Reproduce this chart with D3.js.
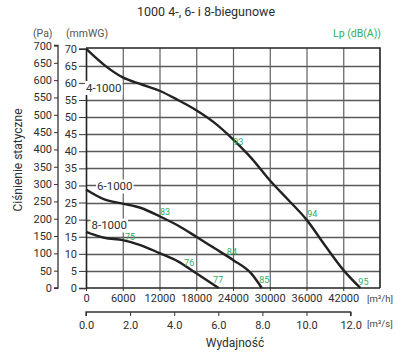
<!DOCTYPE html>
<html><head><meta charset="utf-8">
<script src="https://cdn.jsdelivr.net/npm/d3@7"></script>
<style>body{margin:0;background:#fff}svg{display:block;font-family:Roboto,"Noto Sans",sans-serif}</style>
</head><body><svg id="c" width="408" height="359"></svg>
<script>
// Data (flow in m3/h, static pressure in mmWG)
const curve4 = [[0,70],[3000,65.2],[6000,61.6],[9000,59.6],[12000,57.7],[15000,55],[18000,52],[21000,48.3],[24000,43.5],[27000,38],[30000,31.5],[33000,25.8],[36000,20],[39000,12.5],[42000,5.3],[44800,0]];
const curve6 = [[0,28.8],[3000,25.9],[6000,24.7],[9000,23.4],[12000,21],[15000,18.3],[18000,15],[21000,11.6],[24000,8.2],[27000,4.2],[28700,0]];
const curve8 = [[0,16.4],[3000,14.7],[6000,14],[9000,12.5],[12000,10.2],[15000,7.8],[18000,4.3],[21650,0]];
const curveNames = ["4-1000","6-1000","8-1000"];
const curveLabelPos = [[2900,58.5],[4700,29.7],[3800,18.3]];
const lpLabels = [["75",7190,15.0],["76",16840,7.4],["77",21580,2.3],["83",12920,22.2],["84",23820,10.6],["85",29100,2.3],["93",24850,42.6],["94",36950,21.6],["95",45290,1.8]];
const xTicksH = [0,6000,12000,18000,24000,30000,36000,42000];
const xTicksS = [0,2,4,6,8,10,12];
const yTicksMm = [0,5,10,15,20,25,30,35,40,45,50,55,60,65,70];
const yTicksPa = [0,50,100,150,200,250,300,350,400,450,500,550,600,650,700];

const svg = d3.select("#c");
const L=86,R=380,T=48,B=288;
const x = d3.scaleLinear().domain([0,48000]).range([L,R]);
const xs = d3.scaleLinear().domain([0,48000/3600]).range([L,R]);
const y = d3.scaleLinear().domain([0,70]).range([B,T+0.7]);
const yPa = d3.scaleLinear().domain([0,700]).range([B,45.5]);
const txt="#2e2e2e", green="#2fae62";

// title
svg.append("text").attr("x",206).attr("y",16).attr("text-anchor","middle").attr("font-size",12.5).attr("fill",txt).text("1000 4-, 6- i 8-biegunowe");
svg.append("text").attr("x",33).attr("y",37).attr("font-size",10.5).attr("fill","#555").text("(Pa)");
svg.append("text").attr("x",66).attr("y",37).attr("font-size",10.5).attr("fill","#555").text("(mmWG)");
svg.append("text").attr("x",381).attr("y",37).attr("text-anchor","end").attr("font-size",10.5).attr("fill",green).text("Lp (dB(A))");

// grid: horizontal lines as one path built from the y scale
const hp = d3.path();
yTicksMm.filter(d=>d>0&&d<70).forEach(d=>{ const yy=Math.round(y(d))+0.5; hp.moveTo(L,yy); hp.lineTo(R,yy); });
svg.append("path").attr("d",hp.toString()).attr("fill","none").attr("stroke","#5a5a5a").attr("stroke-width",1.3);
const gridX = svg.append("g").attr("transform",`translate(0,${B})`)
  .call(d3.axisBottom(x).tickValues(xTicksH.filter(d=>d>0)).tickSize(-(B-T)).tickFormat(""));
gridX.select(".domain").remove();
gridX.selectAll(".tick line").attr("stroke","#606060").attr("stroke-width",1.2);

// border
svg.append("path").attr("d",`M${L},${T}H${R}V${B}`).attr("fill","none").attr("stroke","#222").attr("stroke-width",1.6);

// mmWG axis
const ay = d3.axisLeft(y).tickValues(yTicksMm).tickSize(7).tickPadding(2);
const gy = svg.append("g").attr("transform",`translate(${L},0)`).call(ay);
gy.select(".domain").attr("stroke","#222").attr("stroke-width",1.6);
gy.selectAll(".tick line").attr("stroke","#333");
gy.selectAll("text").attr("font-size",11).attr("fill",txt).attr("font-family","Roboto");

// Pa axis
const ap = d3.axisLeft(yPa).tickValues(yTicksPa).tickSize(4).tickPadding(2);
const gp = svg.append("g").attr("transform",`translate(58,0)`).call(ap);
gp.select(".domain").attr("stroke","#333").attr("stroke-width",1.3).attr("d",`M-4,${yPa(700)}H0V${yPa(0)}H-4`);
gp.selectAll(".tick line").attr("stroke","#333");
gp.selectAll("text").attr("font-size",11).attr("fill",txt).attr("font-family","Roboto");

// x axis m3/h
const ax = d3.axisBottom(x).tickValues(xTicksH).tickSize(3).tickPadding(3).tickFormat(d3.format("d"));
const gx = svg.append("g").attr("transform",`translate(0,${B})`).call(ax);
gx.select(".domain").attr("stroke","#222").attr("stroke-width",1.6).attr("d",`M${L},0H${R}`);
gx.selectAll(".tick line").attr("stroke","#333");
gx.selectAll("text").attr("font-size",11).attr("fill",txt).attr("font-family","Roboto");
svg.append("text").attr("x",367).attr("y",302).attr("font-size",9.5).attr("fill","#444").text("[m³/h]");

// x axis m3/s
const axs = d3.axisBottom(xs).tickValues(xTicksS).tickSize(4).tickPadding(5).tickFormat(d3.format(".1f"));
const gs = svg.append("g").attr("transform",`translate(0,312)`).call(axs);
gs.select(".domain").attr("stroke","#333").attr("stroke-width",1.3).attr("d",`M${L},4V0H${xs(12)}V4`);
gs.selectAll(".tick line").attr("stroke","#333");
gs.selectAll("text").attr("font-size",11).attr("fill",txt).attr("font-family","Roboto");
svg.append("text").attr("x",367).attr("y",327).attr("font-size",9.5).attr("fill","#444").text("[m³/s]");

svg.append("text").attr("x",235).attr("y",347).attr("text-anchor","middle").attr("font-size",12).attr("fill",txt).text("Wydajność");
svg.append("text").attr("transform","translate(22,160) rotate(-90)").attr("text-anchor","middle").attr("font-size",12).attr("fill",txt).text("Ciśnienie statyczne");

// curves
const line = d3.line().x(d=>x(d[0])).y(d=>y(d[1])).curve(d3.curveMonotoneX);
[curve4,curve6,curve8].forEach(c=>{
  svg.append("path").attr("d",line(c)).attr("fill","none").attr("stroke","#222").attr("stroke-width",2.4);
});

// curve labels
curveNames.forEach((n,i)=>{
  const p = curveLabelPos[i];
  const t = svg.append("text").attr("x",x(p[0])).attr("y",y(p[1])).attr("text-anchor","middle").attr("dominant-baseline","central").attr("font-size",11.5).attr("fill",txt).text(n);
  const bb = t.node().getBBox();
  svg.insert("rect",()=>t.node()).attr("x",bb.x-1).attr("y",bb.y).attr("width",bb.width+2).attr("height",bb.height).attr("fill","#fff");
});

// Lp labels
lpLabels.forEach(d=>{
  svg.append("text").attr("x",x(d[1])).attr("y",y(d[2])).attr("text-anchor","middle").attr("dominant-baseline","central").attr("font-size",9).attr("fill",green).text(d[0]);
});
</script></body></html>
